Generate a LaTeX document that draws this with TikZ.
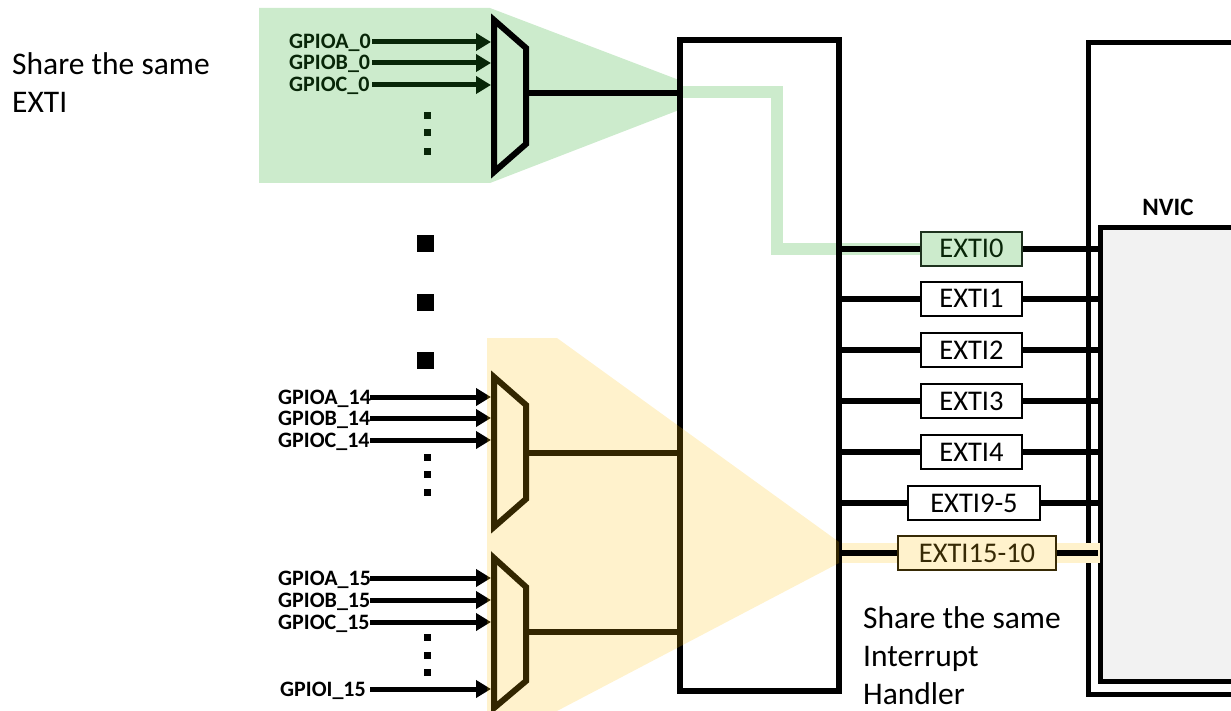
\documentclass[tikz,border=0pt]{standalone}
\usepackage{fontspec}
\setmainfont{Carlito}
\usetikzlibrary{arrows.meta}
\definecolor{grn}{RGB}{204,235,204}
\definecolor{dgrn}{RGB}{8,38,8}
\definecolor{grnborder}{RGB}{30,50,30}
\definecolor{ylw}{RGB}{255,242,204}
\definecolor{ylwov}{RGB}{255,190,0}
\definecolor{dbrn}{RGB}{55,42,5}
\definecolor{nvicfill}{RGB}{242,242,242}
\begin{document}
\begin{tikzpicture}[x=1pt,y=-1pt,
  thickline/.style={line width=6pt},
  muxshape/.style={line width=6pt, line join=miter},
  arr/.style={line width=5pt, -{Triangle[length=15pt,width=17pt]}},
  gpio/.style={font=\bfseries\fontsize{22}{26}\selectfont, inner sep=0pt, text height=14pt, text depth=0pt, anchor=west},
  extibox/.style={draw, line width=2.5pt, minimum height=34pt, inner sep=0pt, font=\fontsize{28.5}{32}\selectfont, text height=18pt, text depth=0pt, fill=white},
  note/.style={font=\fontsize{31.5}{38}\selectfont, align=left, inner sep=0pt, anchor=north west},
  bigdot/.style={fill=black, minimum size=17pt, inner sep=0pt},
  smalldot/.style={fill=black, minimum size=7pt, inner sep=0pt},
]
\useasboundingbox (0,0) rectangle (1231,711);
\clip (0,0) rectangle (1231,711);

% green highlight (EXTI0 group)
\fill[grn] (259,8) -- (490,8) -- (679,80) -- (679,110) -- (490,183) -- (259,183) -- cycle;
\draw[grn, line width=12pt, line join=miter] (679,92) -- (777,92) -- (777,249) -- (921,249);

% NVIC
\node[draw, fill=white, line width=5pt, minimum width=250pt, minimum height=651pt, inner sep=0pt] (nvic) at (1213,368.5) {};
\node[draw, fill=nvicfill, line width=5pt, minimum width=250pt, minimum height=453pt, inner sep=0pt] (core) at (1225,454.5) {};
\node[font=\bfseries\fontsize{25}{30}\selectfont, anchor=base, inner sep=0pt] (nviclbl) at (1168,216) {NVIC};

% yellow band (EXTI15-10)
\fill[ylw] (839,543) rectangle (1100,563);

% EXTI controller box
\node[draw, line width=6pt, minimum width=159pt, minimum height=651pt, inner sep=0pt] (exti) at (759.5,365.5) {};

% EXTI lines and boxes
\coordinate (r0) at (971.5,249);
\coordinate (r1) at (971.5,299);
\coordinate (r2) at (971.5,350);
\coordinate (r3) at (971.5,401);
\coordinate (r4) at (971.5,452);
\coordinate (r5) at (974,503);
\coordinate (r6) at (977,553);
\foreach \r in {r0,r1,r2,r3,r4,r5,r6} {
  \draw[thickline] (exti.east |- \r) -- (core.west |- \r);
}
\node[extibox, fill=grn, draw=grnborder, text=dgrn, minimum width=101pt] (e0) at (r0) {EXTI0};
\node[extibox, minimum width=101pt] (e1) at (r1) {EXTI1};
\node[extibox, minimum width=101pt] (e2) at (r2) {EXTI2};
\node[extibox, minimum width=101pt] (e3) at (r3) {EXTI3};
\node[extibox, minimum width=101pt] (e4) at (r4) {EXTI4};
\node[extibox, minimum width=132pt] (e5) at (r5) {EXTI9-5};
\node[extibox, fill=ylw, draw=dbrn, text=dbrn, minimum width=158pt] (e10) at (r6) {EXTI15-10};

% multiplexer 0
\draw[muxshape] (494,20) -- (526,48) -- (526,144) -- (494,172) -- cycle;
\coordinate (m1o) at (526,93);
\draw[thickline] (m1o) -- (m1o -| exti.west);
\coordinate (s1) at (372,0);
\coordinate (mw) at (491,0);
\coordinate (s2) at (370,0);
\node[gpio, text=dgrn] (a0) at (289,42) {GPIOA\_0};
\node[gpio, text=dgrn] (b0) at (289,63) {GPIOB\_0};
\node[gpio, text=dgrn] (c0) at (289,85) {GPIOC\_0};
\foreach \l in {a0,b0,c0} {
  \draw[arr, dgrn] (\l.east -| s1) -- (\l.east -| mw);
}
\node[smalldot, fill=dgrn] (d01) at (427,116) {};
\node[smalldot, fill=dgrn] (d02) at (427,133) {};
\node[smalldot, fill=dgrn] (d03) at (427,152) {};

% big dots
\node[bigdot] (bd1) at (425.5,244) {};
\node[bigdot] (bd2) at (425.5,302) {};
\node[bigdot] (bd3) at (425.5,360) {};

% multiplexer 14
\draw[muxshape] (494,377) -- (526,405) -- (526,499) -- (494,527) -- cycle;
\coordinate (m14o) at (526,453);
\draw[thickline] (m14o) -- (m14o -| exti.west);
\node[gpio] (a14) at (278,397) {GPIOA\_14};
\node[gpio] (b14) at (278,418) {GPIOB\_14};
\node[gpio] (c14) at (278,440) {GPIOC\_14};
\foreach \l in {a14,b14,c14} {
  \draw[arr] (\l.east -| s2) -- (\l.east -| mw);
}
\node[smalldot] (d141) at (427,457) {};
\node[smalldot] (d142) at (427,474) {};
\node[smalldot] (d143) at (427,492) {};

% multiplexer 15
\draw[muxshape] (494,558) -- (526,587) -- (526,681) -- (494,708) -- cycle;
\coordinate (m15o) at (526,632);
\draw[thickline] (m15o) -- (m15o -| exti.west);
\node[gpio] (a15) at (278,578) {GPIOA\_15};
\node[gpio] (b15) at (278,600) {GPIOB\_15};
\node[gpio] (c15) at (278,622) {GPIOC\_15};
\node[gpio] (i15) at (280,689) {GPIOI\_15};
\foreach \l in {a15,b15,c15,i15} {
  \draw[arr] (\l.east -| s2) -- (\l.east -| mw);
}
\node[smalldot] (d151) at (427,637) {};
\node[smalldot] (d152) at (427,655) {};
\node[smalldot] (d153) at (427,672) {};

% yellow highlight overlay (EXTI15-10 group)
\fill[ylwov, fill opacity=0.2] (487,338) -- (557,338) -- (839,542) -- (839,563) -- (557,711) -- (487,711) -- cycle;

% notes
\node[note] (n1) at (12,52) {Share the same\\EXTI};
\node[note] (n2) at (863,606) {Share the same\\Interrupt\\Handler};
\end{tikzpicture}
\end{document}
